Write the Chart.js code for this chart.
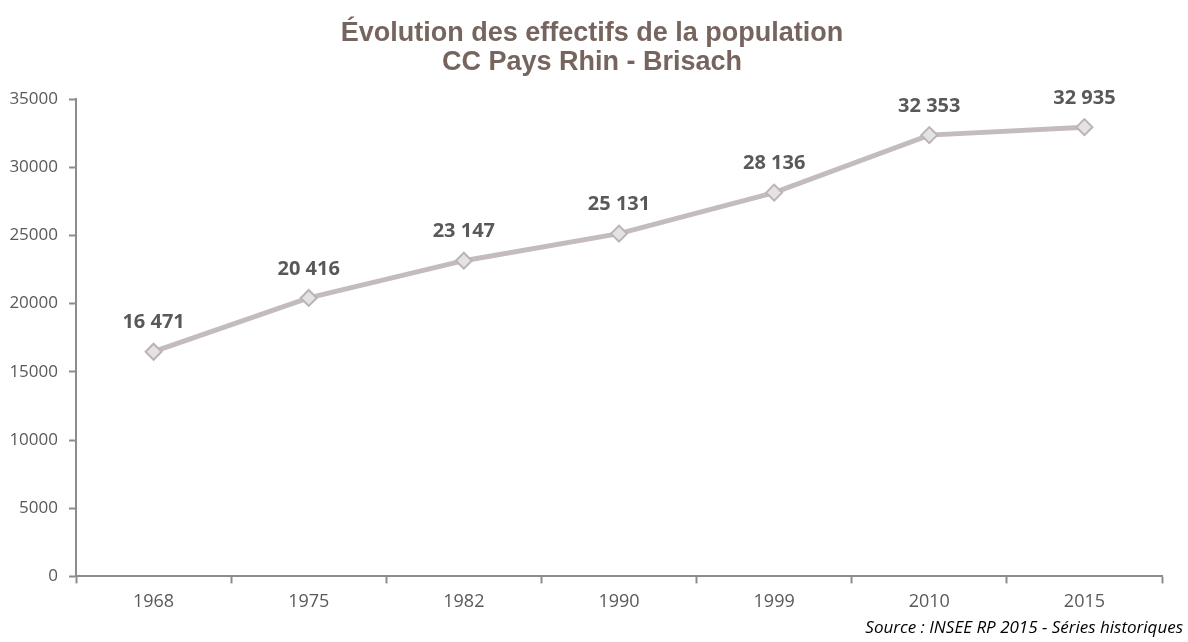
<!DOCTYPE html>
<html>
<head>
<meta charset="utf-8">
<script src="https://cdn.jsdelivr.net/npm/chart.js@4"></script>
<style>
  html, body { margin: 0; padding: 0; background: #fff; }
  #wrap { width: 1188px; height: 642px; }
</style>
</head>
<body>
<div id="wrap"><canvas id="popChart"></canvas></div>
<script>
const years = ['1968', '1975', '1982', '1990', '1999', '2010', '2015'];
const population = [16471, 20416, 23147, 25131, 28136, 32353, 32935];
const titleLines = ['Évolution des effectifs de la population', 'CC Pays Rhin - Brisach'];
const sourceNote = 'Source : INSEE RP 2015 - Séries historiques';

const axisColor = '#8c8c8c';
const textColor = '#595959';

// french thousands separator: "16 471"
const fmt = v => String(v).replace(/\B(?=(\d{3})+(?!\d))/g, ' ');

const pointLabels = {
  id: 'pointLabels',
  afterDatasetsDraw(chart) {
    const ctx = chart.ctx;
    const meta = chart.getDatasetMeta(0);
    ctx.save();
    ctx.font = 'bold 20px "Open Sans", sans-serif';
    ctx.fillStyle = textColor;
    ctx.textAlign = 'center';
    ctx.textBaseline = 'middle';
    meta.data.forEach((pt, i) => {
      ctx.fillText(fmt(population[i]), pt.x, pt.y - 29);
    });
    ctx.restore();
  }
};

// title centred on the whole canvas + source note bottom right
const textPlugin = {
  id: 'textPlugin',
  afterDraw(chart) {
    const ctx = chart.ctx;
    ctx.save();
    ctx.font = 'bold 27px "Liberation Sans", Arial, sans-serif';
    ctx.fillStyle = '#76655e';
    ctx.textAlign = 'center';
    ctx.textBaseline = 'middle';
    titleLines.forEach((t, i) => ctx.fillText(t, chart.width / 2 - 2, 34 + i * 29));

    ctx.font = 'italic 17px "Open Sans", sans-serif';
    ctx.fillStyle = '#000';
    ctx.textAlign = 'right';
    ctx.fillText(sourceNote, chart.width - 5, 628);
    ctx.restore();
  }
};

const config = {
  type: 'line',
  data: {
    labels: years,
    datasets: [{
      data: population,
      borderColor: '#c4bcbc',
      borderWidth: 5,
      pointStyle: 'rectRot',
      pointRadius: 8,
      pointHoverRadius: 8,
      pointBackgroundColor: '#e4e2e2',
      pointBorderColor: '#bcb4b4',
      pointBorderWidth: 2,
      tension: 0
    }]
  },
  options: {
    responsive: true,
    maintainAspectRatio: false,
    animation: false,
    layout: {
      padding: { left: 0, right: 26, top: 99, bottom: 21 }
    },
    scales: {
      x: {
        offset: true,
        grid: {
          offset: true,
          drawOnChartArea: false,
          color: axisColor,
          tickLength: 7,
          tickWidth: 2
        },
        border: { color: axisColor, width: 2 },
        ticks: {
          color: textColor,
          padding: 8,
          font: { family: '"Open Sans", sans-serif', size: 18 }
        }
      },
      y: {
        min: 0,
        max: 35000,
        afterFit: scale => { scale.width = 76; },
        grid: {
          drawOnChartArea: false,
          color: axisColor,
          tickLength: 7,
          tickWidth: 2
        },
        border: { color: axisColor, width: 2 },
        ticks: {
          stepSize: 5000,
          color: textColor,
          padding: 11,
          font: { family: '"Open Sans", sans-serif', size: 17 },
          callback: v => v
        }
      }
    },
    plugins: {
      legend: { display: false },
      tooltip: { enabled: false },
      title: { display: false }
    }
  },
  plugins: [pointLabels, textPlugin]
};

new Chart('popChart', config);
</script>
</body>
</html>
